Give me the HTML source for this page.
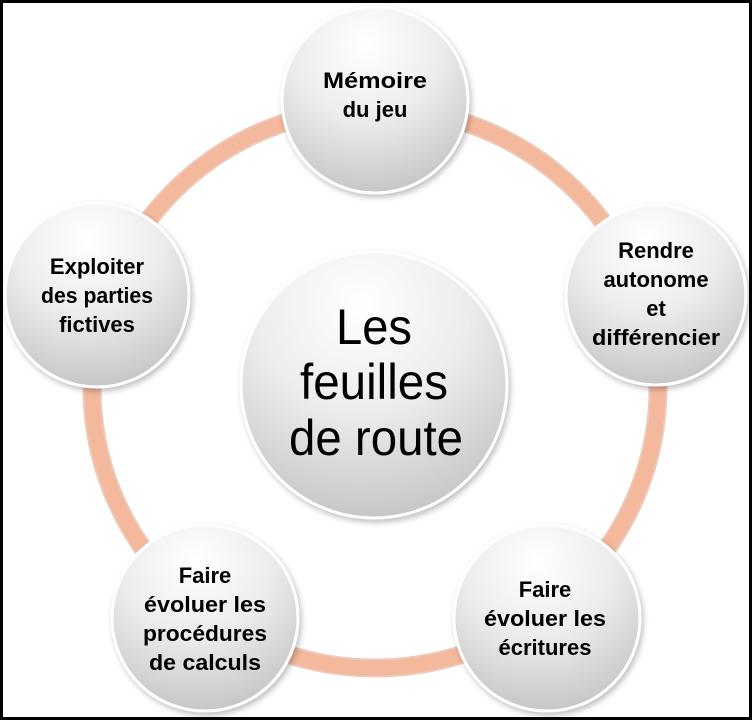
<!DOCTYPE html>
<html><head><meta charset="utf-8"><style>
html,body{margin:0;padding:0;background:#fff}
svg{display:block}
text{font-family:"Liberation Sans",sans-serif;fill:#000}
.b{font-weight:bold;font-size:22px}
</style></head><body>
<svg width="752" height="720" viewBox="0 0 752 720" xmlns="http://www.w3.org/2000/svg">
<defs>
<radialGradient id="g" cx="0.45" cy="0.2" r="0.9">
<stop offset="0" stop-color="#ffffff"/>
<stop offset="0.45" stop-color="#ececec"/>
<stop offset="1" stop-color="#bdbdbd"/>
</radialGradient>
<filter id="sh" x="-20%" y="-20%" width="140%" height="140%">
<feDropShadow dx="2" dy="3" stdDeviation="3" flood-color="#000" flood-opacity="0.25"/>
</filter>
</defs>
<rect x="1.5" y="1.5" width="749" height="717" fill="#fff" stroke="#000" stroke-width="3"/>
<ellipse cx="375" cy="388" rx="283" ry="280" fill="none" stroke="#ecc9b8" stroke-width="19"/>
<ellipse cx="375" cy="388" rx="283" ry="280" fill="none" stroke="#f4b89c" stroke-width="15"/>
<g stroke="#fff" stroke-width="3" fill="url(#g)" filter="url(#sh)">
<circle cx="374" cy="385" r="133"/>
<circle cx="375" cy="100" r="93"/>
<circle cx="656" cy="295" r="90"/>
<circle cx="97" cy="295" r="92"/>
<circle cx="205" cy="618" r="93"/>
<circle cx="547" cy="618" r="93"/>
</g>
<g text-anchor="middle" font-size="50">
<text x="374" y="344" textLength="76" lengthAdjust="spacingAndGlyphs">Les</text>
<text x="374" y="399" textLength="148" lengthAdjust="spacingAndGlyphs">feuilles</text>
<text x="376" y="455" textLength="174" lengthAdjust="spacingAndGlyphs">de route</text>
</g>
<g text-anchor="middle">
<text class="b" x="375" y="88" textLength="104" lengthAdjust="spacingAndGlyphs">Mémoire</text>
<text class="b" x="375" y="117">du jeu</text>
<text class="b" x="656" y="258">Rendre</text>
<text class="b" x="656" y="287">autonome</text>
<text class="b" x="656" y="316">et</text>
<text class="b" x="656" y="345" textLength="128" lengthAdjust="spacingAndGlyphs">différencier</text>
<text class="b" x="97" y="274">Exploiter</text>
<text class="b" x="97" y="303" textLength="112" lengthAdjust="spacingAndGlyphs">des parties</text>
<text class="b" x="97" y="332">fictives</text>
<text class="b" x="205" y="583">Faire</text>
<text class="b" x="205" y="612" textLength="122" lengthAdjust="spacingAndGlyphs">évoluer les</text>
<text class="b" x="205" y="641" textLength="124" lengthAdjust="spacingAndGlyphs">procédures</text>
<text class="b" x="205" y="670" textLength="112" lengthAdjust="spacingAndGlyphs">de calculs</text>
<text class="b" x="545" y="597">Faire</text>
<text class="b" x="545" y="626" textLength="122" lengthAdjust="spacingAndGlyphs">évoluer les</text>
<text class="b" x="545" y="655">écritures</text>
</g>
</svg>
</body></html>
